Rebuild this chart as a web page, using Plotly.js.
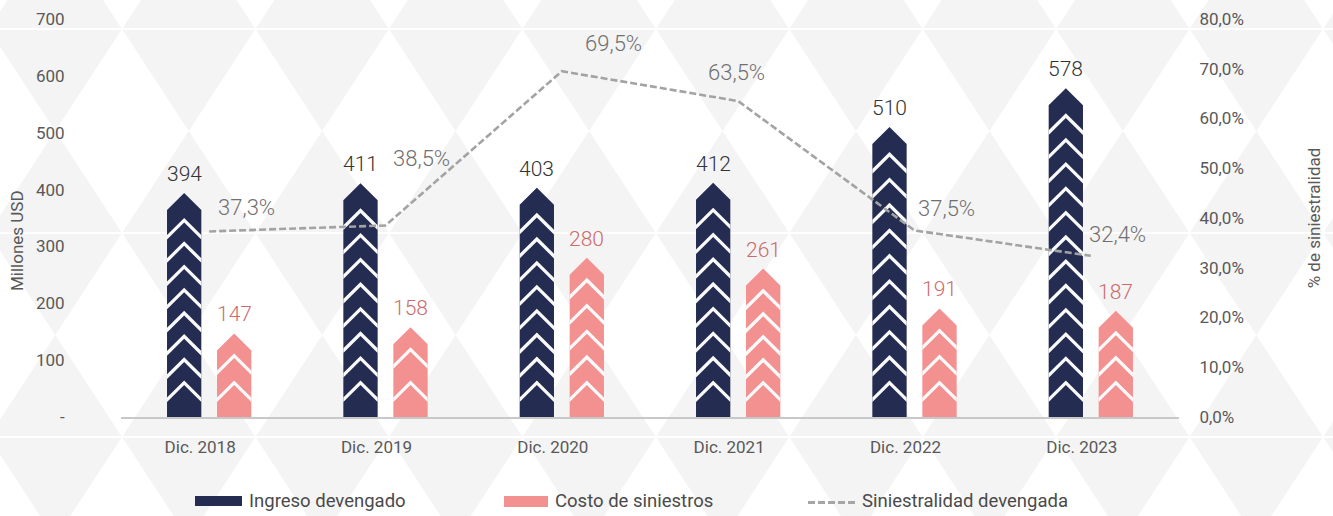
<!DOCTYPE html>
<html>
<head>
<meta charset="utf-8">
<script src="https://cdn.plot.ly/plotly-3.0.1.min.js"></script>
<style>html,body{margin:0;padding:0;background:#fff;}#chart{width:1333px;height:516px;}</style>
</head>
<body>
<div id="chart"></div>
<script>
// ---------- DATA ----------
const categories = ['Dic. 2018', 'Dic. 2019', 'Dic. 2020', 'Dic. 2021', 'Dic. 2022', 'Dic. 2023'];
const ingresoDevengado = [394, 411, 403, 412, 510, 578];
const costoSiniestros = [147, 158, 280, 261, 191, 187];
const siniestralidad = [37.3, 38.5, 69.5, 63.5, 37.5, 32.4];
const leftTickVals = [0, 100, 200, 300, 400, 500, 600, 700];
const leftTickText = ['-', '100', '200', '300', '400', '500', '600', '700'];
const rightTickVals = [0, 10, 20, 30, 40, 50, 60, 70, 80];
const seriesNames = ['Ingreso devengado', 'Costo de siniestros', 'Siniestralidad devengada'];
const axisTitles = ['Millones USD', '% de siniestralidad'];

// ---------- LAYOUT / STYLE ----------
const W = 1333, H = 516;
const M = {l: 121, r: 154, t: 19, b: 99};
const PW = W - M.l - M.r, PH = H - M.t - M.b;
const Y_MAX = 700, Y2_MAX = 80;
const PX_PER_X = PW / categories.length;
const PX_PER_Y = PH / Y_MAX;
const NAVY = '#242c51', PINK = '#f39190';
const FONT = 'Roboto, "Open Sans", sans-serif';
const pctLabelShiftX = [37, 36, 52, -2, 32, 27];
const pctLabelShiftY = [24, 67, 28, 29, 22, 21];

const pxX = x => (x - M.l) / PW;
const pxY = y => (H - M.b - y) / PH;
const fmtPct = v => v.toFixed(1).replace('.', ',') + '%';

const barOffset = 25 / PX_PER_X;
const barHalf = 17.15 / PX_PER_X;
const tipDrop = 17 / PX_PER_Y;
const chevThick = 4.6 / PX_PER_Y;

function barPolygons(vals, dx) {
  const xs = [], ys = [];
  vals.forEach((v, i) => {
    const xc = i + dx, xl = xc - barHalf, xr = xc + barHalf, s = v - tipDrop;
    xs.push(xl, xl, xc, xr, xr, xl, null);
    ys.push(0, s, v, s, 0, 0, null);
  });
  return {xs, ys};
}
function chevronPolygons(vals, dx, topOffPx) {
  const xs = [], ys = [];
  const bottomPx = 36.5, stepPx = 25;
  vals.forEach((v, i) => {
    const xc = i + dx, xl = xc - barHalf, xr = xc + barHalf;
    const span = v * PX_PER_Y - bottomPx - topOffPx;
    const gaps = Math.max(0, Math.round(span / stepPx));
    const spacing = gaps ? span / gaps : 0;
    for (let j = 0; j <= gaps; j++) {
      const t = (bottomPx + j * spacing) / PX_PER_Y;
      xs.push(xl, xc, xr, xr, xc, xl, xl, null);
      ys.push(t - tipDrop, t, t - tipDrop, t - tipDrop - chevThick, t - chevThick, t - tipDrop - chevThick, t - tipDrop, null);
    }
  });
  return {xs, ys};
}

const dBar = barPolygons(ingresoDevengado, -barOffset);
const pBar = barPolygons(costoSiniestros, barOffset);
const dChev = chevronPolygons(ingresoDevengado, -barOffset, 25);
const pChev = chevronPolygons(costoSiniestros, barOffset, 20);
const xIdx = categories.map((c, i) => i);

const traces = [
  {type: 'scatter', mode: 'lines', x: dBar.xs, y: dBar.ys, fill: 'toself', fillcolor: NAVY,
   line: {width: 0, color: NAVY}, name: seriesNames[0], hoverinfo: 'skip', showlegend: false},
  {type: 'scatter', mode: 'lines', x: dChev.xs, y: dChev.ys, fill: 'toself', fillcolor: '#fafafa',
   line: {width: 0, color: '#fafafa'}, hoverinfo: 'skip', showlegend: false},
  {type: 'scatter', mode: 'lines', x: pBar.xs, y: pBar.ys, fill: 'toself', fillcolor: PINK,
   line: {width: 0, color: PINK}, name: seriesNames[1], hoverinfo: 'skip', showlegend: false},
  {type: 'scatter', mode: 'lines', x: pChev.xs, y: pChev.ys, fill: 'toself', fillcolor: '#fafafa',
   line: {width: 0, color: '#fafafa'}, hoverinfo: 'skip', showlegend: false},
  {type: 'scatter', mode: 'lines', x: xIdx, y: siniestralidad, yaxis: 'y2', name: seriesNames[2],
   line: {color: '#a3a3a3', width: 2.6, dash: '7px,3px'}, showlegend: false}
];

// ---------- BACKGROUND PATTERN ----------
const P = 133.45, X0 = 122, BAND = 204, Y0 = 29;
let path = '';
for (let b = -1; b <= 2; b++) {
  const yA = Y0 + b * BAND, yB = yA + BAND, ym = (yA + yB) / 2;
  for (let k = -1; k <= 10; k++) {
    const cx = X0 + k * P;
    path += `M${pxX(cx)},${pxY(yA)}L${pxX(cx + P / 2)},${pxY(ym)}L${pxX(cx)},${pxY(yB)}L${pxX(cx - P / 2)},${pxY(ym)}Z`;
  }
}
const shapes = [
  {type: 'path', xref: 'paper', yref: 'paper', path: path, fillcolor: '#ffffff', line: {width: 0}, layer: 'below'}
];
[29, 233, 437].forEach(y => shapes.push({type: 'line', xref: 'paper', yref: 'paper', x0: pxX(0), x1: pxX(W), y0: pxY(y), y1: pxY(y),
  line: {color: '#ffffff', width: 2}, layer: 'below'}));

// legend (custom)
shapes.push({type: 'rect', xref: 'paper', yref: 'paper', x0: pxX(195), x1: pxX(242), y0: pxY(506), y1: pxY(496), fillcolor: NAVY, line: {width: 0}});
shapes.push({type: 'rect', xref: 'paper', yref: 'paper', x0: pxX(504), x1: pxX(548), y0: pxY(507), y1: pxY(496), fillcolor: PINK, line: {width: 0}});
shapes.push({type: 'line', xref: 'paper', yref: 'paper', x0: pxX(808), x1: pxX(858), y0: pxY(502.5), y1: pxY(502.5), line: {color: '#a6a6a6', width: 3, dash: '7px,3px'}});

// ---------- ANNOTATIONS ----------
const annotations = [];
ingresoDevengado.forEach((v, i) => annotations.push({x: i - barOffset, y: v, xref: 'x', yref: 'y', text: String(v), showarrow: false,
  yanchor: 'middle', yshift: 19, font: {family: FONT, size: 21, weight: 300, color: '#333333'}}));
costoSiniestros.forEach((v, i) => annotations.push({x: i + barOffset, y: v, xref: 'x', yref: 'y', text: String(v), showarrow: false,
  yanchor: 'middle', yshift: 19, font: {family: FONT, size: 21, weight: 300, color: '#cc6b6b'}}));
siniestralidad.forEach((v, i) => annotations.push({x: i, y: v, xref: 'x', yref: 'y2', text: fmtPct(v), showarrow: false,
  xanchor: 'center', yanchor: 'middle', xshift: pctLabelShiftX[i], yshift: pctLabelShiftY[i], font: {family: FONT, size: 22, weight: 300, color: '#707070'}}));
[[247, seriesNames[0]], [553, seriesNames[1]], [860, seriesNames[2]]].forEach(([x, t]) => annotations.push({
  xref: 'paper', yref: 'paper', x: pxX(x), y: pxY(501), xanchor: 'left', yanchor: 'middle', showarrow: false, text: t,
  font: {family: FONT, size: 18.5, color: '#4a4a4a'}}));
// left axis title
annotations.push({xref: 'paper', yref: 'paper', x: pxX(17), y: pxY(241), xanchor: 'center', yanchor: 'middle', showarrow: false,
  text: axisTitles[0], textangle: -90, font: {family: FONT, size: 17, color: '#595959'}});

const layout = {
  width: W, height: H, margin: M,
  paper_bgcolor: '#f4f4f4', plot_bgcolor: 'rgba(0,0,0,0)',
  separators: ',.',
  showlegend: false,
  font: {family: FONT, color: '#595959'},
  xaxis: {range: [-0.5, categories.length - 0.5], tickvals: xIdx, ticktext: categories, showgrid: false, zeroline: false,
    showline: true, linecolor: '#c8c8c8', linewidth: 2, ticks: 'outside', ticklen: 14, tickcolor: 'rgba(0,0,0,0)',
    ticklabelshift: -9, tickfont: {family: FONT, size: 17, color: '#595959'}, fixedrange: true},
  yaxis: {range: [0, Y_MAX], tickvals: leftTickVals, ticktext: leftTickText, showgrid: false, zeroline: false, showline: false,
    ticks: 'outside', ticklen: 52, tickcolor: 'rgba(0,0,0,0)', tickfont: {family: FONT, size: 17, color: '#595959'}, fixedrange: true},
  yaxis2: {range: [0, Y2_MAX], overlaying: 'y', side: 'right', tickvals: rightTickVals, ticktext: rightTickVals.map(fmtPct),
    showgrid: false, zeroline: false, showline: false, ticks: 'outside', ticklen: 16, tickcolor: 'rgba(0,0,0,0)',
    tickfont: {family: FONT, size: 17, color: '#595959'},
    title: {text: axisTitles[1], font: {family: FONT, size: 17, color: '#595959'}, standoff: 65}, fixedrange: true},
  shapes: shapes,
  annotations: annotations
};

Plotly.newPlot('chart', traces, layout, {displayModeBar: false, staticPlot: true});
</script>
</body>
</html>
